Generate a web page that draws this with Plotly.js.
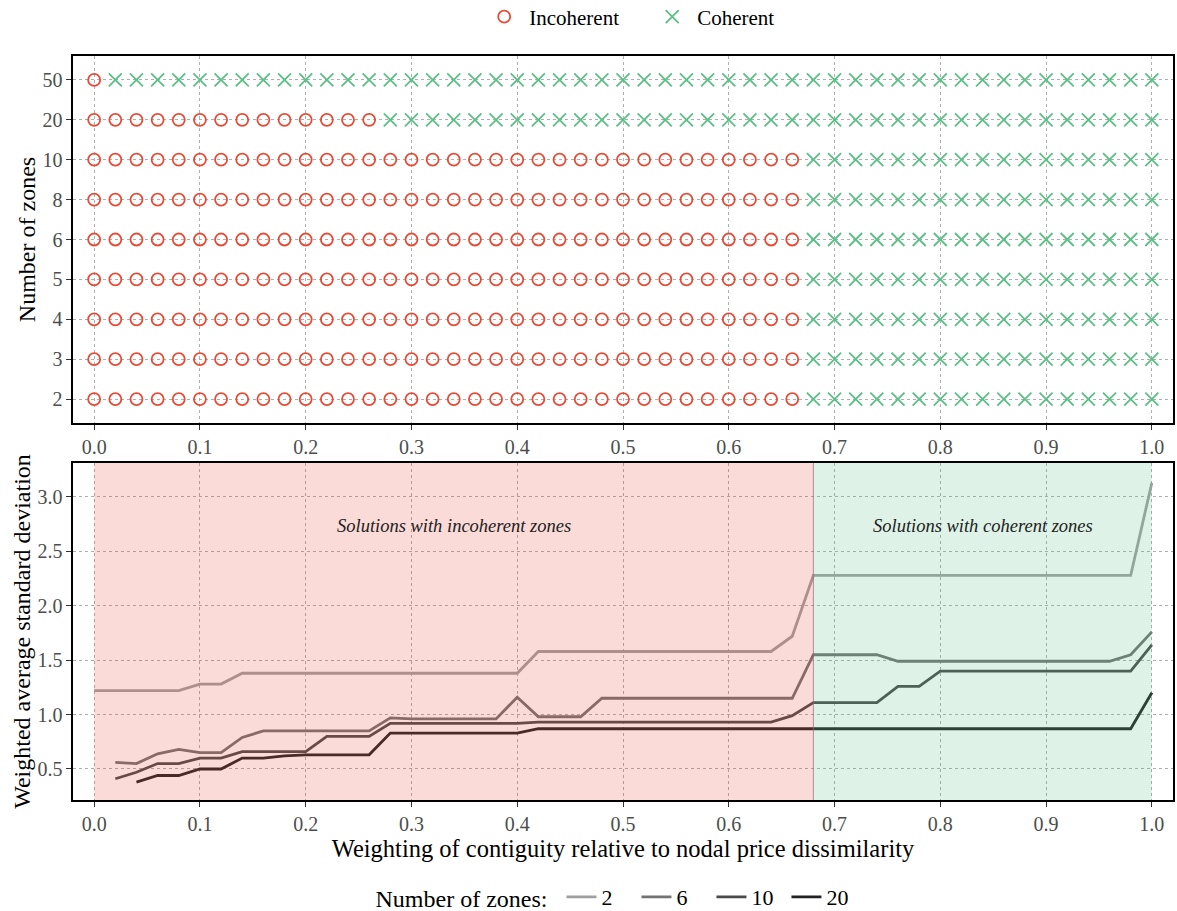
<!DOCTYPE html>
<html>
<head>
<meta charset="utf-8">
<script src="https://cdn.plot.ly/plotly-3.0.1.min.js"></script>
<style>html,body{margin:0;padding:0;background:#fff}#chart{width:1177px;height:911px}</style>
</head>
<body>
<div id="chart"></div>
<script>
// ---- data ----
const weights = [0.00,0.02,0.04,0.06,0.08,0.10,0.12,0.14,0.16,0.18,0.20,0.22,0.24,0.26,0.28,0.30,0.32,0.34,0.36,0.38,0.40,0.42,0.44,0.46,0.48,0.50,0.52,0.54,0.56,0.58,0.60,0.62,0.64,0.66,0.68,0.70,0.72,0.74,0.76,0.78,0.80,0.82,0.84,0.86,0.88,0.90,0.92,0.94,0.96,0.98,1.00];
const zoneCounts = ["2","3","4","5","6","8","10","20","50"];
// largest weighting at which the solution still has incoherent zones
const lastIncoherent = [0.66,0.66,0.66,0.66,0.66,0.66,0.66,0.26,0.00];

const lineZones = ["2","6","10","20"];
const sd2 = [1.22,1.22,1.22,1.22,1.22,1.28,1.28,1.38,1.38,1.38,1.38,1.38,1.38,1.38,1.38,1.38,1.38,1.38,1.38,1.38,1.38,1.58,1.58,1.58,1.58,1.58,1.58,1.58,1.58,1.58,1.58,1.58,1.58,1.72,2.28,2.28,2.28,2.28,2.28,2.28,2.28,2.28,2.28,2.28,2.28,2.28,2.28,2.28,2.28,2.28,3.13];
const sd6 = [null,0.56,0.55,0.64,0.68,0.65,0.65,0.79,0.85,0.85,0.85,0.85,0.85,0.85,0.97,0.96,0.96,0.96,0.96,0.96,1.16,0.98,0.98,0.98,1.15,1.15,1.15,1.15,1.15,1.15,1.15,1.15,1.15,1.15,1.55,1.55,1.55,1.55,1.49,1.49,1.49,1.49,1.49,1.49,1.49,1.49,1.49,1.49,1.49,1.55,1.76];
const sd10 = [null,0.41,0.47,0.55,0.55,0.60,0.60,0.66,0.66,0.66,0.66,0.80,0.80,0.80,0.92,0.92,0.92,0.92,0.92,0.92,0.92,0.93,0.93,0.93,0.93,0.93,0.93,0.93,0.93,0.93,0.93,0.93,0.93,0.99,1.11,1.11,1.11,1.11,1.26,1.26,1.40,1.40,1.40,1.40,1.40,1.40,1.40,1.40,1.40,1.40,1.64];
const sd20 = [null,null,0.38,0.44,0.44,0.50,0.50,0.60,0.60,0.62,0.63,0.63,0.63,0.63,0.83,0.83,0.83,0.83,0.83,0.83,0.83,0.87,0.87,0.87,0.87,0.87,0.87,0.87,0.87,0.87,0.87,0.87,0.87,0.87,0.87,0.87,0.87,0.87,0.87,0.87,0.87,0.87,0.87,0.87,0.87,0.87,0.87,0.87,0.87,0.87,1.20];
const lineSeries = [sd2, sd6, sd10, sd20];
const lineColors = ["#a0a0a0","#727272","#4a4a4a","#222222"];

const boundary = 0.68;
const tickVals = [0,0.1,0.2,0.3,0.4,0.5,0.6,0.7,0.8,0.9,1.0];

// ---- build top-panel points ----
const incX = [], incY = [], cohX = [], cohY = [];
zoneCounts.forEach((z, i) => {
  weights.forEach(w => {
    if (w <= lastIncoherent[i] + 1e-9) { incX.push(w); incY.push(z); }
    else { cohX.push(w); cohY.push(z); }
  });
});

const RED = "#E64B35", GREEN = "#5BBF86";
const FONT = "Liberation Serif, DejaVu Serif, serif";

const traces = [
  {x: incX, y: incY, type: "scatter", mode: "markers", name: "Incoherent",
   xaxis: "x", yaxis: "y", legend: "legend",
   marker: {symbol: "circle-open", size: 12, color: RED, line: {width: 1.8, color: RED}}},
  {x: cohX, y: cohY, type: "scatter", mode: "markers", name: "Coherent",
   xaxis: "x", yaxis: "y", legend: "legend",
   marker: {symbol: "x-thin-open", size: 13, color: GREEN, line: {width: 1.8, color: GREEN}}}
];
lineSeries.forEach((s, i) => {
  traces.push({x: weights, y: s, type: "scatter", mode: "lines", name: lineZones[i],
    xaxis: "x2", yaxis: "y2", legend: "legend2", connectgaps: false,
    line: {color: lineColors[i], width: 2.8}});
});

const TICKFONT = {family: FONT, size: 20, color: "#4d4d4d"};
const TITLEFONT = {family: FONT, size: 24, color: "#000"};

const axCommon = {
  range: [-0.02, 1.02], tickvals: tickVals, tickformat: ".1f",
  showgrid: true, gridcolor: "#9a9a9a", griddash: "dot", gridwidth: 0.8,
  zeroline: false, showline: true, mirror: true, linecolor: "#000", linewidth: 1.6,
  ticks: "outside", ticklen: 5, tickcolor: "#333", tickwidth: 1,
  tickfont: TICKFONT
};

const layout = {
  width: 1177, height: 911,
  margin: {l: 73, r: 4, t: 56, b: 111, autoexpand: false},
  paper_bgcolor: "#fff", plot_bgcolor: "#fff",
  font: {family: FONT, color: "#000"},
  showlegend: true,
  xaxis: Object.assign({}, axCommon, {anchor: "y", domain: [0, 1]}),
  yaxis: {anchor: "x", domain: [0.5067, 1], type: "category",
    categoryorder: "array", categoryarray: zoneCounts, range: [-0.6, 8.6],
    showgrid: true, gridcolor: "#9a9a9a", griddash: "dot", gridwidth: 0.8,
    zeroline: false, showline: true, mirror: true, linecolor: "#000", linewidth: 1.6,
    ticks: "outside", ticklen: 5, tickcolor: "#333",
    tickfont: TICKFONT,
    title: {text: "Number of zones", font: TITLEFONT, standoff: 0}},
  xaxis2: Object.assign({}, axCommon, {anchor: "y2", domain: [0, 1],
    title: {text: "Weighting of contiguity relative to nodal price dissimilarity",
      font: {family: FONT, size: 24.5, color: "#000"}, standoff: 0}}),
  yaxis2: {anchor: "x2", domain: [0, 0.4530], range: [0.215, 3.3125],
    tickvals: [0.5,1.0,1.5,2.0,2.5,3.0], tickformat: ".1f",
    showgrid: true, gridcolor: "#9a9a9a", griddash: "dot", gridwidth: 0.8,
    zeroline: false, showline: true, mirror: true, linecolor: "#000", linewidth: 1.6,
    ticks: "outside", ticklen: 5, tickcolor: "#333",
    tickfont: TICKFONT,
    title: {text: "Weighted average standard deviation", font: TITLEFONT, standoff: 0}},
  legend: {orientation: "h", x: 0.522, xanchor: "center", y: 1.0524, yanchor: "middle",
    font: {family: FONT, size: 21, color: "#000"}, bgcolor: "rgba(0,0,0,0)", itemwidth: 40,
    entrywidth: 113},
  legend2: {orientation: "h", x: 0.495, xanchor: "center", y: -0.1304, yanchor: "middle",
    font: {family: FONT, size: 22, color: "#000"}, bgcolor: "rgba(0,0,0,0)",
    entrywidth: 30,
    title: {text: "Number of zones: ", side: "left", font: {family: FONT, size: 24, color: "#000"}}},
  shapes: [
    {type: "rect", xref: "x2", yref: "y2 domain", x0: 0, x1: boundary, y0: 0, y1: 1,
     fillcolor: RED, opacity: 0.2, line: {width: 0}, layer: "above"},
    {type: "rect", xref: "x2", yref: "y2 domain", x0: boundary, x1: 1.0, y0: 0, y1: 1,
     fillcolor: GREEN, opacity: 0.2, line: {width: 0}, layer: "above"},
    {type: "line", xref: "x2", yref: "y2 domain", x0: boundary, x1: boundary, y0: 0, y1: 1,
     line: {color: "rgba(140,110,105,0.7)", width: 1}, layer: "above"}
  ],
  annotations: [
    {xref: "x2", yref: "y2", x: 0.34, y: 2.73, text: "<i>Solutions with incoherent zones</i>",
     showarrow: false, font: {family: FONT, size: 18.5, color: "#222"}},
    {xref: "x2", yref: "y2", x: 0.84, y: 2.73, text: "<i>Solutions with coherent zones</i>",
     showarrow: false, font: {family: FONT, size: 18.5, color: "#222"}}
  ]
};

Plotly.newPlot("chart", traces, layout, {displayModeBar: false, staticPlot: true});
</script>
</body>
</html>
